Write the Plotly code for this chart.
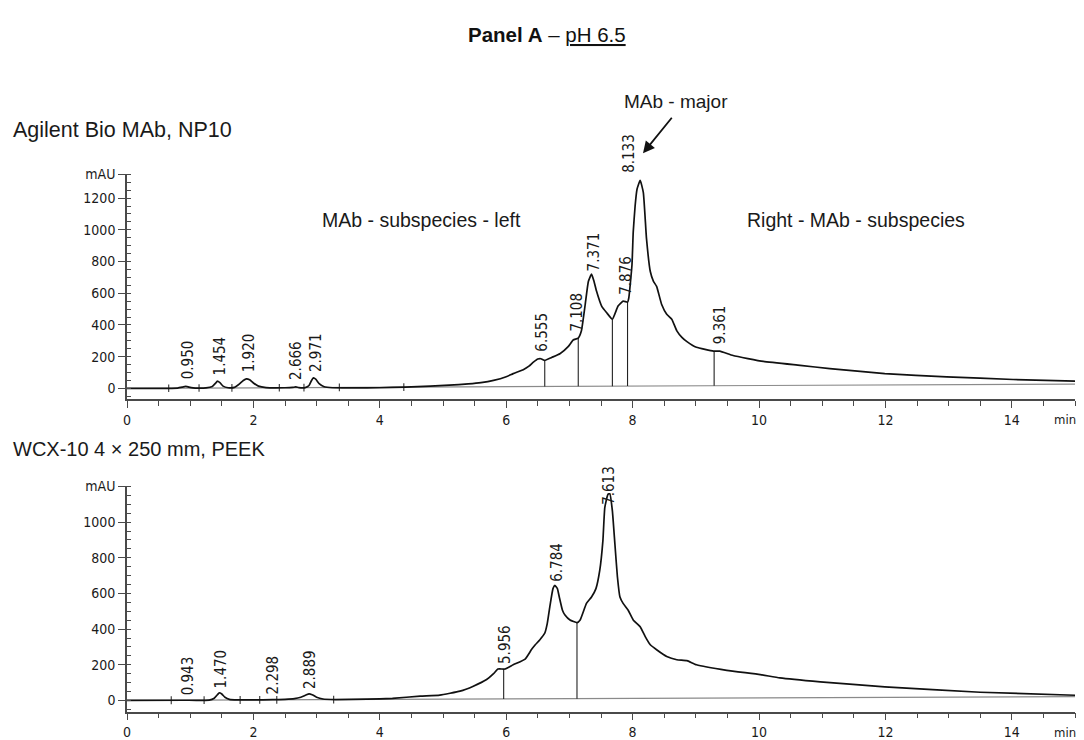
import numpy as np
import plotly.graph_objects as go

# page body has an 8px margin: compensate so that the plot lands on the reference pixels
OFF = 8
FIG_W, FIG_H = 1076, 732
ML, MR = 119, 9

# ---------------- data ----------------
top_time = [0.0, 0.5, 0.80, 0.88, 0.93, 0.98, 1.08, 1.25, 1.35, 1.40, 1.43, 1.47, 1.52, 1.60,
            1.70, 1.78, 1.84, 1.89, 1.94, 2.00, 2.08, 2.20, 2.50, 2.62, 2.67, 2.72, 2.82, 2.88,
            2.92, 2.95, 2.99, 3.04, 3.12, 3.25, 3.6, 4.0, 4.4, 4.8, 5.1, 5.4, 5.6, 5.8, 6.0,
            6.11, 6.27, 6.36, 6.43, 6.50, 6.55, 6.61, 6.72, 6.85, 6.98, 7.06, 7.14, 7.19, 7.25,
            7.30, 7.35, 7.39, 7.43, 7.51, 7.59, 7.68, 7.77, 7.85, 7.92, 7.94, 7.99, 8.01, 8.04,
            8.07, 8.12, 8.17, 8.22, 8.28, 8.33, 8.38, 8.46, 8.54, 8.62, 8.70, 8.78, 8.86, 9.01,
            9.28, 9.38, 9.59, 10.07, 10.65, 11.12, 11.99, 12.97, 14.02, 15.0]
top_signal = [0, 0, 2, 8, 12, 8, 2, 3, 12, 32, 46, 36, 14, 4,
              6, 28, 50, 60, 54, 34, 14, 5, 4, 6, 9, 5, 5, 18,
              50, 66, 56, 30, 10, 4, 3, 4, 8, 14, 20, 28, 36, 50, 73,
              93, 118, 140, 165, 185, 187, 176, 195, 218, 263, 305, 317, 363, 529,
              674, 720, 674, 612, 519, 477, 436, 519, 550, 544, 571, 778, 986, 1152,
              1256, 1312, 1235, 944, 737, 675, 643, 529, 467, 436, 363, 322, 295, 259,
              235, 235, 207, 170, 145, 125, 93, 73, 56, 46]

bot_time = [0.0, 0.9, 1.30, 1.38, 1.43, 1.46, 1.50, 1.55, 1.62, 1.75, 2.0, 2.3, 2.5, 2.65,
            2.75, 2.83, 2.88, 2.93, 3.0, 3.1, 3.3, 3.8, 4.2, 4.64, 4.95, 5.27, 5.48, 5.69,
            5.80, 5.87, 5.98, 6.11, 6.30, 6.40, 6.46, 6.53, 6.61, 6.65, 6.69, 6.74, 6.77,
            6.81, 6.84, 6.89, 6.93, 7.01, 7.12, 7.17, 7.27, 7.35, 7.42, 7.48, 7.53, 7.56,
            7.61, 7.64, 7.68, 7.72, 7.76, 7.80, 7.85, 7.93, 8.01, 8.12, 8.20, 8.28, 8.38,
            8.54, 8.70, 8.86, 9.01, 9.49, 10.02, 10.33, 10.97, 11.99, 13.5, 15.0]
bot_signal = [0, 1, 2, 12, 32, 43, 36, 18, 6, 3, 3, 4, 6, 10,
              18, 30, 37, 32, 18, 8, 5, 7, 12, 24, 30, 52, 80, 117,
              150, 176, 176, 200, 232, 285, 312, 339, 377, 432, 525, 627, 645,
              627, 580, 506, 479, 451, 436, 451, 544, 580, 627, 729, 896, 1081,
              1156, 1159, 1063, 877, 692, 580, 544, 506, 451, 413, 358, 312, 284,
              246, 228, 223, 200, 169, 145, 126, 104, 76, 46, 29]

top_baseline_time = [0.0, 15.0]
top_baseline_value = [0, 27]
bot_baseline_time = [0.0, 15.0]
bot_baseline_value = [0, 21]

top_peak_labels = ["0.950", "1.454", "1.920", "2.666", "2.971", "6.555", "7.108", "7.371",
                   "7.876", "8.133", "9.361"]
bot_peak_labels = ["0.943", "1.470", "2.298", "2.889", "5.956", "6.784", "7.613"]

top_drop_times = [6.61, 7.14, 7.68, 7.92, 9.29]
bot_drop_times = [5.96, 7.12]
top_event_times = [0.66, 1.14, 1.66, 2.41, 2.80, 3.36, 4.38]
bot_event_times = [0.70, 1.22, 1.79, 2.10, 2.37, 3.27]

top_y_ticks = [0, 200, 400, 600, 800, 1000, 1200]
bot_y_ticks = [0, 200, 400, 600, 800, 1000]
x_ticks = [0, 2, 4, 6, 8, 10, 12, 14]

# ---------------- helpers ----------------
PW = FIG_W - ML - MR


def px(x):
    """reference page x (pixels) -> paper fraction"""
    return (x - OFF - ML) / PW


def py(y):
    """reference page y (pixels) -> paper fraction"""
    return 1 - (y - OFF) / FIG_H


NUM_FONT = "Liberation Sans Narrow, DejaVu Sans Condensed, Arial Narrow, sans-serif"
TXT_FONT = "Liberation Sans, Arial, sans-serif"
AXC = "#4a4a4a"
TXC = "#1a1a1a"


def base_at(t, bt, bv):
    return float(np.interp(t, bt, bv))


def sig_at(t, tt, sv):
    return float(np.interp(t, tt, sv))


fig = go.Figure()

panels = [
    dict(xa="x", ya="y", t=top_time, s=top_signal, bt=top_baseline_time, bv=top_baseline_value,
         drops=top_drop_times, events=top_event_times, ev_h=24),
    dict(xa="x2", ya="y2", t=bot_time, s=bot_signal, bt=bot_baseline_time, bv=bot_baseline_value,
         drops=bot_drop_times, events=bot_event_times, ev_h=22),
]

for p in panels:
    fig.add_trace(go.Scatter(x=p["bt"], y=p["bv"], mode="lines", xaxis=p["xa"], yaxis=p["ya"],
                             line=dict(color="#8a8a8a", width=1.2), hoverinfo="skip"))
    dx, dy = [], []
    for d in p["drops"]:
        dx += [d, d, None]
        dy += [base_at(d, p["bt"], p["bv"]), sig_at(d, p["t"], p["s"]), None]
    fig.add_trace(go.Scatter(x=dx, y=dy, mode="lines", xaxis=p["xa"], yaxis=p["ya"],
                             line=dict(color="#222222", width=1.1), hoverinfo="skip"))
    ex, ey = [], []
    for e in p["events"]:
        b = base_at(e, p["bt"], p["bv"])
        ex += [e, e, None]
        ey += [b - p["ev_h"], b + p["ev_h"], None]
    fig.add_trace(go.Scatter(x=ex, y=ey, mode="lines", xaxis=p["xa"], yaxis=p["ya"],
                             line=dict(color="#333333", width=1.1), hoverinfo="skip"))
    fig.add_trace(go.Scatter(x=p["t"], y=p["s"], mode="lines", xaxis=p["xa"], yaxis=p["ya"],
                             line=dict(color="#111111", width=1.7, shape="spline", smoothing=0.4),
                             hoverinfo="skip"))

annotations = []

top_label_dx = {"8.133": -13}
for lab in top_peak_labels:
    rt = float(lab)
    yv = sig_at(rt, top_time, top_signal)
    if lab == "8.133":
        yv = max(top_signal)
    annotations.append(dict(x=rt, y=yv, xref="x", yref="y", text=lab, textangle=-90,
                            showarrow=False, xanchor="center", yanchor="bottom",
                            xshift=1 + top_label_dx.get(lab, 0), yshift=5,
                            font=dict(family=NUM_FONT, size=15, color=TXC)))
bot_label_dy = {"7.613": -16}
for lab in bot_peak_labels:
    rt = float(lab)
    yv = sig_at(rt, bot_time, bot_signal)
    annotations.append(dict(x=rt, y=yv, xref="x2", yref="y2", text=lab, textangle=-90,
                            showarrow=False, xanchor="center", yanchor="bottom",
                            xshift=1, yshift=3 + bot_label_dy.get(lab, 0),
                            font=dict(family=NUM_FONT, size=15, color=TXC)))

annotations += [
    dict(x=px(547), y=py(27), xref="paper", yref="paper", showarrow=False,
         text="<b>Panel A</b> – <u>pH 6.5</u>", xanchor="center", yanchor="middle",
         font=dict(family=TXT_FONT, size=20.5, color="#111")),
    dict(x=px(11), y=py(123), xref="paper", yref="paper", showarrow=False,
         text="Agilent Bio MAb, NP10", xanchor="left", yanchor="middle",
         font=dict(family=TXT_FONT, size=21.5, color=TXC)),
    dict(x=px(11), y=py(446), xref="paper", yref="paper", showarrow=False,
         text="WCX-10 4 × 250 mm, PEEK", xanchor="left", yanchor="middle",
         font=dict(family=TXT_FONT, size=20, color=TXC)),
    dict(x=px(421), y=py(215), xref="paper", yref="paper", showarrow=False,
         text="MAb - subspecies - left", xanchor="center", yanchor="middle",
         font=dict(family=TXT_FONT, size=19.5, color=TXC)),
    dict(x=px(856), y=py(215), xref="paper", yref="paper", showarrow=False,
         text="Right - MAb - subspecies", xanchor="center", yanchor="middle",
         font=dict(family=TXT_FONT, size=19.5, color=TXC)),
    dict(x=px(676), y=py(95), xref="paper", yref="paper", showarrow=False,
         text="MAb - major", xanchor="center", yanchor="middle",
         font=dict(family=TXT_FONT, size=19, color=TXC)),
    dict(x=px(643), y=py(147), xref="paper", yref="paper", showarrow=True,
         ax=30, ay=-37, axref="pixel", ayref="pixel", text="", arrowhead=2,
         arrowsize=1.3, arrowwidth=1.8, arrowcolor="#111"),
    dict(x=px(1077), y=py(417), xref="paper", yref="paper", showarrow=False,
         text="min", xanchor="right", yanchor="middle", borderpad=0,
         font=dict(family=NUM_FONT, size=13, color=TXC)),
    dict(x=px(1077), y=py(733), xref="paper", yref="paper", showarrow=False,
         text="min", xanchor="right", yanchor="middle", borderpad=0,
         font=dict(family=NUM_FONT, size=13, color=TXC)),
]


def xaxis_cfg(anchor):
    return dict(range=[0, 15], anchor=anchor, domain=[0, 1], showgrid=False, zeroline=False,
                showline=True, linecolor=AXC, linewidth=1.6, ticks="outside", ticklen=7,
                tickwidth=1.3, tickcolor=AXC, tickvals=x_ticks,
                ticktext=[str(v) for v in x_ticks],
                minor=dict(dtick=0.5, tick0=0, ticks="outside", ticklen=5, tickwidth=1.1,
                           tickcolor=AXC, showgrid=False),
                tickfont=dict(family=NUM_FONT, size=14, color=TXC), fixedrange=True)


def yaxis_cfg(anchor, rng, dom, ticks_, top):
    return dict(range=rng, anchor=anchor, domain=dom, showgrid=False, zeroline=False,
                showline=True, linecolor=AXC, linewidth=1.6, ticks="outside", ticklen=7,
                tickwidth=1.3, tickcolor=AXC, tickvals=ticks_ + [top],
                ticktext=[str(v) for v in ticks_] + ["mAU"],
                minor=dict(dtick=50, tick0=0, ticks="inside", ticklen=4, tickwidth=1.1,
                           tickcolor=AXC, showgrid=False),
                tickfont=dict(family=NUM_FONT, size=14, color=TXC), fixedrange=True)


top_scale = 0.1606   # px per mAU
bot_scale = 0.1797
fig.update_layout(
    width=FIG_W, height=FIG_H, autosize=False,
    margin=dict(l=ML, r=MR, t=0, b=0),
    paper_bgcolor="white", plot_bgcolor="white", showlegend=False,
    xaxis=xaxis_cfg("y"),
    yaxis=yaxis_cfg("x", [-(396 - 385) / top_scale, 1350], [py(396), py(168.3)], top_y_ticks, 1350),
    xaxis2=xaxis_cfg("y2"),
    yaxis2=yaxis_cfg("x2", [-(712.3 - 701) / bot_scale, 1200], [py(712.3), py(484.3)], bot_y_ticks, 1200),
    annotations=annotations,
)

fig.write_html("out.html")
